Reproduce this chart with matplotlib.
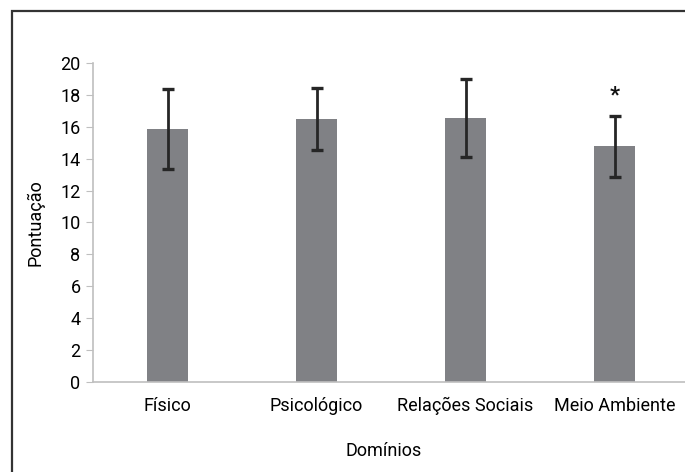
import matplotlib.pyplot as plt
from matplotlib.patches import Rectangle

plt.rcParams['font.family'] = ['Roboto', 'DejaVu Sans']

# data
dominios = ['Físico', 'Psicológico', 'Relações Sociais', 'Meio Ambiente']
medias = [15.87, 16.5, 16.55, 14.78]
desvios = [2.51, 1.95, 2.45, 1.92]
yticks = list(range(0, 21, 2))
asterisco_pos = 3
asterisco_y = 18.0

W, H = 685, 472
fig = plt.figure(figsize=(W / 100, H / 100), dpi=100)

# outer frame (cropped at right and bottom in the original)
fig.patches.append(Rectangle((12.5 / W, -0.05), 1.1, 1 - 11 / H + 0.05,
                             transform=fig.transFigure, fill=False,
                             edgecolor='#333333', linewidth=1.6))

ax = fig.add_axes([93 / W, 1 - 381.7 / H, 1 - 93 / W, (381.7 - 63.3) / H])
x = list(range(len(dominios)))
ax.bar(x, medias, width=0.28, color='#808185', zorder=2)
ax.errorbar(x, medias, yerr=desvios, fmt='none', ecolor='#262626',
            elinewidth=2.0, capsize=4.4, capthick=2.4, zorder=3)
ax.text(asterisco_pos, asterisco_y, '*', ha='center', va='center',
        fontsize=16, fontweight='bold', color='#111111')

fs = 13
ax.set_xlim(-0.5, -0.5 + (W - 93) / 149)
ax.set_ylim(0, 20)
ax.set_yticks(yticks)
ax.set_xticks(x)
ax.set_xticklabels(dominios, fontsize=fs)
ax.tick_params(axis='y', labelsize=fs, length=5, color='#bfbfbf', pad=4)
ax.tick_params(axis='x', length=0, pad=11)
for s in ['top', 'right']:
    ax.spines[s].set_visible(False)
for s in ['left', 'bottom']:
    ax.spines[s].set_color('#bfbfbf')
    ax.spines[s].set_linewidth(1.2)

ax.set_ylabel('Pontuação', fontsize=fs)
ax.yaxis.set_label_coords(-(93 - 44) / (W - 93), 0.5)
ax.set_xlabel('Domínios', fontsize=fs)
ax.xaxis.set_label_coords((384 - 93) / (W - 93), -(442 - 381.7) / (381.7 - 63.3))

fig.savefig('out.png', dpi=100, facecolor='white')
